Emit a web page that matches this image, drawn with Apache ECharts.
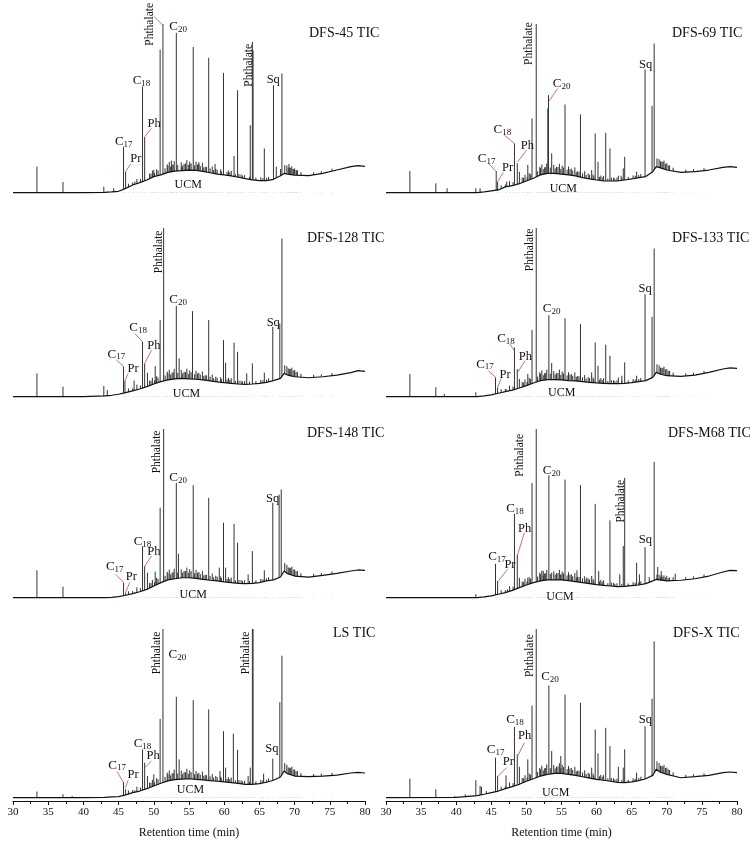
<!DOCTYPE html>
<html>
<head>
<meta charset="utf-8">
<title>TIC chromatograms</title>
<script src="https://cdn.jsdelivr.net/npm/echarts@6/dist/echarts.min.js"></script>
<style>
  html, body { margin: 0; padding: 0; background: #fff; }
  #chart { width: 750px; height: 844px; }
</style>
</head>
<body>
<div id="chart"></div>
<script>
// ===== data (retention time in min, signal in % of panel height) =====
const panelNames = ["DFS-45 TIC", "DFS-69 TIC", "DFS-128 TIC", "DFS-133 TIC", "DFS-148 TIC", "DFS-M68 TIC", "LS TIC", "DFS-X TIC"];
const xTickMin = 30, xTickMax = 80, xTickStep = 5;

// UCM hump (unresolved baseline), sampled at humpTimes
const humpTimes = [30, 40, 43, 44, 45, 46, 47, 48, 49, 50, 51, 52, 53, 54, 55, 56, 57, 58, 59, 60, 61, 62, 63, 64, 65, 66, 67, 68, 68.5, 69, 70, 72, 74, 76, 78, 79, 80];
const hump45  = [0, 0, 0.2, 0.4, 0.8, 2.5, 4.5, 5.9, 7.5, 9.5, 10.5, 12, 12.8, 13, 13.4, 13.2, 12.6, 11.8, 11, 10.5, 9.9, 9.1, 8.3, 7.6, 7.1, 7.1, 7.9, 10, 11.4, 11, 10.4, 10.1, 11.4, 13.4, 15.4, 16, 15.6];
const hump69  = [0, 0, 0, 0.4, 1, 1.6, 3.4, 4.1, 5.3, 6.9, 8.5, 10.5, 11.4, 11.4, 11, 10.5, 9.9, 8.9, 8.1, 7.5, 6.9, 6.9, 6.9, 7.5, 8.1, 8.9, 9.5, 12.4, 15.4, 14.8, 13.4, 12, 12.4, 13.4, 15, 15.4, 15];
const hump128 = [0, 0, 0.4, 0.8, 1.4, 2.4, 3.4, 4.5, 5.9, 7.5, 8.9, 9.9, 10.5, 10.8, 10.5, 10.3, 9.9, 9.3, 8.7, 8.3, 7.9, 7.5, 7.3, 7.5, 7.9, 8.5, 9.5, 10.8, 13.8, 12.8, 11.8, 11.2, 11.8, 12.8, 14.2, 15.4, 15];
const hump133 = [0, 0, 0, 0.4, 1, 2, 3, 3.9, 5.1, 6.5, 8.1, 9.5, 10.1, 10.1, 9.9, 9.5, 9.3, 8.9, 8.5, 8.1, 7.9, 7.7, 7.7, 7.9, 8.3, 8.9, 9.5, 11.4, 14.4, 13.4, 12.4, 12, 12.8, 14.4, 16.4, 17, 16.8];
const hump148 = [0, 0, 0, 0.2, 0.6, 1.4, 2.4, 3.5, 4.9, 6.9, 8.9, 10.5, 11.2, 11.8, 11.8, 11.4, 10.8, 10.3, 9.9, 9.3, 8.9, 8.5, 8.3, 8.5, 8.9, 9.9, 10.5, 12.2, 15.8, 14.2, 12.8, 12.2, 13.2, 14.4, 15.8, 16.4, 16.2];
const humpM68 = [0, 0, 0, 0.4, 1, 2, 3, 4.3, 5.9, 7.5, 8.9, 9.9, 10.5, 10.6, 10.5, 10.1, 9.5, 8.9, 8.3, 7.7, 7.3, 6.9, 6.5, 6.7, 7.1, 7.5, 8.3, 9.9, 10.8, 10.5, 9.9, 10.3, 11.2, 12.8, 15.2, 16.2, 16];
const humpLS  = [0, 0, 0.2, 0.4, 0.6, 1.6, 3, 3.9, 5.3, 6.9, 8.5, 9.9, 10.7, 11, 11.2, 10.8, 10.5, 10.1, 9.7, 9.3, 8.9, 8.5, 7.9, 7.9, 8.3, 9.1, 10.3, 12.2, 15.8, 14.2, 12.8, 12.4, 12.8, 13.4, 14.6, 15, 14.6];
const humpX   = [0, 0.2, 1.2, 2, 3, 3.9, 5.3, 6.5, 7.9, 9.7, 11.2, 12.8, 13.8, 14.4, 14.4, 13.8, 13.2, 12.4, 11.6, 10.8, 10.3, 9.7, 9.1, 8.9, 9.3, 10.1, 11.2, 13.2, 16.8, 15.2, 13.8, 11.8, 12.4, 13.2, 14.8, 15.2, 14.8];

// resolved peaks: [time, apex]
const peaks45  = [[33.4, 15.4], [37.1, 6.3], [42.9, 3.5], [44.3, 2.6], [45.7, 27.2], [46.0, 12.4], [47.3, 6.5], [48.4, 63], [48.7, 33], [50.0, 13.4], [50.9, 84.8], [51.3, 100], [52.5, 19], [53.2, 94.7], [53.9, 15], [55.1, 17], [55.6, 86.4], [56.4, 18], [57.8, 80], [58.7, 17], [59.9, 71], [61.4, 21.7], [61.9, 60.7], [63.7, 40], [64.0, 89.3], [64.1, 84.4], [65.7, 26.2], [67.0, 63.7], [67.4, 15.4], [68.0, 14], [68.2, 70.6], [69.2, 17], [69.8, 14], [70.3, 13]];
const peaks69  = [[33.4, 12.8], [37.1, 5.5], [38.7, 2.6], [42.8, 2.6], [43.4, 2.6], [45.7, 12.8], [45.9, 6.5], [47.2, 6.5], [48.3, 29.2], [48.7, 17.4], [49.0, 12.4], [50.2, 16.4], [50.8, 44], [51.4, 100], [53.05, 50], [53.15, 57.8], [53.6, 23.3], [55.5, 52.3], [57.7, 46.4], [59.3, 13.4], [59.8, 35.1], [60.2, 18.3], [61.3, 35.5], [61.9, 26.2], [63.1, 10], [63.5, 10], [63.8, 14.4], [64.0, 21.3], [65.7, 12.4], [66.9, 73], [67.9, 51.5], [68.2, 88.4]];
const peaks128 = [[33.4, 13.8], [37.1, 5.9], [42.9, 6.3], [43.4, 3.9], [45.7, 17.8], [45.9, 9.5], [47.2, 9.5], [48.4, 32.5], [48.7, 19.7], [49.1, 14.2], [50.2, 18.1], [50.9, 45.4], [51.4, 100], [53.2, 53.8], [53.6, 22.7], [55.5, 50.7], [57.8, 45.4], [59.9, 33.5], [60.2, 20.1], [61.4, 32], [61.9, 26.6], [63.2, 13.8], [64.0, 19.7], [65.7, 14.2], [66.9, 41.4], [67.9, 43.4], [68.2, 93.7]];
const peaks133 = [[33.4, 13.4], [37.1, 5.5], [38.3, 1.6], [42.8, 2.6], [45.6, 11.4], [45.9, 5.5], [47.1, 4.5], [48.3, 29.2], [48.7, 16.4], [49.0, 10.5], [50.2, 13.4], [50.8, 39.6], [51.4, 100], [53.2, 48.3], [53.6, 19.9], [55.5, 46.5], [57.7, 43], [59.3, 14.4], [59.8, 32.1], [60.2, 18.3], [61.3, 30.8], [61.9, 24.3], [63.1, 11.4], [63.6, 12.4], [64.0, 20.3], [65.7, 12.4], [66.9, 60.7], [67.9, 47.3], [68.2, 87.8]];
const peaks148 = [[33.4, 16.2], [37.1, 6.5], [45.7, 8.9], [46.0, 3], [47.3, 3], [48.4, 30.6], [48.7, 18.7], [49.1, 14.8], [50.2, 15.4], [50.9, 53.3], [51.4, 100], [53.2, 68], [53.5, 26], [55.6, 66.7], [57.8, 59.2], [59.3, 17.8], [59.9, 44.4], [60.2, 17.8], [61.4, 43.8], [61.9, 32.5], [63.4, 13.8], [64.0, 27.6], [65.7, 16.2], [66.9, 56.2], [67.8, 61.1], [68.1, 64.1]];
const peaksM68 = [[42.8, 2], [44.2, 1], [45.6, 20.1], [45.9, 9.9], [47.3, 4.9], [48.3, 49.7], [48.7, 25.6], [49.0, 11.8], [50.2, 11.8], [50.8, 68], [51.4, 100], [52.4, 15.8], [53.2, 72.6], [53.6, 14.8], [54.9, 13.8], [55.5, 70], [56.4, 11.8], [57.2, 16.2], [57.7, 66.7], [58.6, 11.8], [59.3, 12.8], [59.8, 55.6], [60.3, 15.8], [61.9, 45.8], [63.3, 13.8], [63.8, 30.6], [64.0, 71], [65.7, 20.7], [66.1, 13.8], [66.9, 30], [67.5, 12.2], [68.2, 80.5], [68.7, 18.1], [69.2, 15.8], [71.2, 14.2]];
const peaksLS  = [[33.4, 3.6], [37.1, 2], [38.4, 1], [45.7, 9.3], [46.0, 5], [47.3, 4.3], [48.4, 28.6], [48.7, 20.7], [49.1, 12.8], [50.0, 13.8], [50.9, 46.7], [51.3, 100], [53.2, 59.8], [53.6, 22.7], [55.6, 57.8], [57.8, 52.3], [59.4, 15.8], [59.9, 39.4], [60.2, 17.8], [61.3, 37.9], [61.9, 28.4], [63.4, 12.8], [63.7, 17.8], [64.0, 100], [64.1, 100], [65.6, 14.2], [66.9, 23.1], [67.9, 56.6], [68.2, 84.2]];
const peaksX   = [[33.4, 11.2], [37.1, 4.9], [39.8, 1], [41.3, 2], [42.8, 10.3], [43.4, 6.9], [43.6, 6.5], [44.3, 3.9], [45.6, 23.7], [45.9, 12.8], [47.1, 13.2], [48.3, 42], [48.7, 25.6], [49.0, 18.3], [50.2, 22.7], [50.8, 54.6], [51.4, 100], [53.2, 66.5], [53.6, 27.6], [54.9, 24.7], [55.5, 61.1], [57.7, 56.2], [59.3, 17.8], [59.8, 40.4], [60.2, 26.2], [61.3, 41.4], [61.9, 30.6], [63.1, 18.3], [63.8, 17.8], [64.0, 28.6], [65.7, 14.8], [66.9, 42.4], [67.9, 58.6], [68.2, 92.7]];

// small noise peaks riding on the hump (two interleaved sets of apexes)
const minorTimes = [46.4, 47.6, 49.4, 49.8, 50.4, 51.9, 52.2, 52.6, 52.9, 53.9, 54.3, 54.7, 55.1, 56.0, 56.4, 56.9, 57.3, 58.3, 58.8, 59.5, 60.6, 61.0, 62.4, 62.9, 65.2, 66.3, 68.6, 68.9, 69.3, 69.6, 70.0, 70.4, 70.9, 72.7, 73.8, 75.3];
const minor45  = [5.3, 8.1, 11.3, 13.1, 13.9, 16.8, 18.2, 16.5, 18.7, 18, 17.1, 19.3, 18.4, 18.2, 17, 17.7, 15.4, 15.6, 14.2, 13.8, 13.1, 12.9, 10.8, 10.4, 9.1, 9.3, 16.3, 16.1, 14.8, 15.6, 14.4, 13.3, 12.2, 12.1, 12.8, 14.2];
const minor69  = [4.3, 6.8, 8.9, 10.6, 11.5, 15.3, 16.7, 15, 17.3, 16.4, 15.3, 17.1, 16, 15.5, 14.3, 15, 12.6, 12.7, 11.3, 10.8, 10.1, 9.9, 8.9, 8.9, 10.2, 11.1, 20.3, 19.9, 18.4, 19, 17.4, 16.1, 14.8, 13.6, 13.9, 14.6];
const minor128 = [4.8, 7.1, 9.5, 11.2, 12.1, 14.8, 16, 14.3, 16.4, 15.8, 14.7, 16.6, 15.5, 15.3, 14.1, 14.9, 12.7, 13.1, 11.8, 11.5, 11.1, 10.9, 9.4, 9.3, 10, 10.8, 18.6, 18, 16.5, 17.2, 15.8, 14.7, 13.5, 12.9, 13.2, 14];
const minor133 = [4.4, 6.5, 8.7, 10.2, 11.1, 14.4, 15.6, 13.9, 16, 15.1, 14, 16, 14.9, 14.5, 13.4, 14.3, 12.2, 12.8, 11.6, 11.3, 11, 10.9, 9.7, 9.7, 10.4, 11.1, 19.2, 18.6, 17.1, 17.8, 16.4, 15.3, 14.2, 13.8, 14.2, 15.3];
const minor148 = [3.8, 6.1, 8.7, 10.5, 11.7, 15.3, 16.6, 14.9, 17.1, 16.7, 15.8, 17.8, 16.8, 16.4, 15.2, 15.9, 13.6, 14.2, 13, 12.6, 12.1, 11.9, 10.4, 10.3, 11.1, 12.1, 20.5, 19.5, 17.8, 18.4, 16.8, 15.7, 14.5, 14.1, 14.6, 15.5];
const minorM68 = [4.4, 6.8, 9.5, 11.2, 12.1, 14.8, 16, 14.3, 16.4, 15.6, 14.6, 16.5, 15.5, 15.1, 13.9, 14.6, 12.3, 12.7, 11.4, 11, 10.5, 10.3, 8.7, 8.5, 9.2, 9.7, 13.7, 13.6, 13.3, 13.2, 12.9, 12, 12.1, 12.1, 12.6, 13.7];
const minorLS  = [4.2, 6.5, 8.9, 10.6, 11.5, 14.8, 16.1, 14.4, 16.6, 16, 15.1, 17.1, 16.2, 15.8, 14.7, 15.5, 13.4, 14, 12.8, 12.5, 12.1, 11.9, 10.3, 10, 10.5, 11.5, 20.5, 19.5, 17.8, 18.4, 16.8, 15.7, 14.6, 14, 14.3, 14.7];
const minorX   = [6.5, 9, 11.6, 13.3, 14.3, 17.6, 19, 17.4, 19.7, 19.3, 18.4, 20.4, 19.4, 18.8, 17.6, 18.3, 16, 16.2, 14.8, 14.2, 13.5, 13.3, 11.5, 11.2, 11.5, 12.4, 21.5, 20.5, 18.8, 19.4, 17.8, 16.4, 15, 13.5, 13.8, 14.4];

const minorTimes2 = [47.0, 48.1, 49.6, 50.1, 50.6, 51.6, 52.0, 52.4, 52.75, 53.4, 54.1, 54.5, 54.9, 55.3, 55.8, 56.2, 56.6, 57.1, 57.5, 58.0, 58.5, 59.0, 59.6, 60.4, 60.8, 61.6, 62.1, 62.6, 63.6, 64.5, 65.5, 66.0, 69.1, 69.45, 69.8, 70.2];
const minor2_45  = [6, 8.1, 11.2, 11.6, 13.1, 14.4, 16, 15.3, 16.6, 16.4, 16, 17.2, 16.4, 17.3, 16.2, 16.6, 15.8, 15, 15.2, 14.3, 13.4, 13.5, 12.7, 12.3, 12, 10.9, 11, 10.1, 9.4, 8.9, 8.6, 8.6, 14.9, 14.7, 14, 13.4];
const minor2_69  = [4.9, 6.2, 8.8, 9.1, 10.9, 12.7, 14.5, 13.9, 15.2, 14.9, 14.4, 15.2, 14, 14.9, 13.6, 13.9, 13.1, 12.3, 12.4, 11.4, 10.5, 10.6, 9.7, 9.3, 9, 8.4, 8.9, 8.4, 8.8, 9.3, 10, 10.4, 18.7, 18.2, 17.2, 16.3];
const minor2_128 = [4.9, 6.6, 9.4, 9.6, 11.3, 12.5, 13.9, 13.1, 14.4, 14.1, 13.8, 14.6, 13.5, 14.4, 13.3, 13.7, 13.1, 12.3, 12.6, 11.8, 11, 11.2, 10.5, 10.1, 10, 9.2, 9.5, 8.9, 8.9, 9.2, 9.7, 10, 16.7, 16.3, 15.5, 14.7];
const minor2_133 = [4.5, 6, 8.4, 8.7, 10.5, 11.9, 13.5, 12.7, 14, 13.6, 13.1, 14, 12.9, 13.8, 12.6, 13, 12.4, 11.8, 12.1, 11.4, 10.7, 11, 10.3, 10, 9.9, 9.3, 9.7, 9.2, 9.3, 9.6, 10.1, 10.4, 17.2, 16.9, 16.1, 15.3];
const minor2_148 = [3.9, 5.6, 8.6, 9.1, 11.1, 12.9, 14.5, 13.8, 15, 14.9, 14.8, 15.8, 14.8, 15.7, 14.5, 14.8, 14, 13.2, 13.5, 12.8, 12.1, 12.4, 11.5, 11.1, 11, 10.2, 10.5, 9.9, 9.9, 10.2, 10.9, 11.4, 17.9, 17.5, 16.6, 15.7];
const minor2_M68 = [4.5, 6.5, 9.4, 9.6, 11.3, 12.5, 13.9, 13.1, 14.4, 14, 13.6, 14.5, 13.5, 14.4, 13.2, 13.5, 12.7, 11.9, 12.2, 11.4, 10.6, 10.8, 9.9, 9.5, 9.4, 8.6, 8.9, 8.2, 8.1, 8.4, 8.8, 9, 12.4, 12.2, 12, 11.5];
const minor2_LS  = [4.5, 6, 8.8, 9.1, 10.9, 12.3, 13.9, 13.2, 14.5, 14.3, 14, 15.1, 14.2, 15.1, 13.9, 14.2, 13.6, 13, 13.3, 12.6, 11.9, 12.2, 11.5, 11.1, 11, 10.2, 10.4, 9.6, 9.4, 9.6, 10.2, 10.6, 17.9, 17.5, 16.6, 15.7];
const minor2_X   = [6.8, 8.6, 11.5, 11.9, 13.6, 15.2, 16.8, 16.2, 17.6, 17.5, 17.4, 18.4, 17.4, 18.2, 16.9, 17.2, 16.4, 15.6, 15.8, 14.9, 14, 14.1, 13.1, 12.6, 12.4, 11.5, 11.6, 10.8, 10.5, 10.6, 11.2, 11.6, 18.9, 18.4, 17.6, 16.8];

// peak labels: [text, time, value] (label centre), leaders: [t1, v1, t2, v2]
const labels45  = [["Phthalate", 49.43, 99.8], ["C20", 53.46, 98.6], ["C18", 48.25, 66.3], ["Ph", 50.05, 40.6], ["C17", 45.73, 30.2], ["Pr", 47.44, 20.3], ["Phthalate", 63.55, 75.5], ["Sq", 66.97, 67], ["UCM", 54.88, 4.9]];
const labels69  = [["Phthalate", 50.37, 88.4], ["C20", 55.02, 64.7], ["C18", 46.57, 37.1], ["Ph", 50.13, 27.8], ["C17", 44.34, 20.3], ["Pr", 47.33, 15], ["Sq", 66.99, 76.1], ["UCM", 55.26, 2.2]];
const labels128 = [["Phthalate", 50.71, 85.8], ["C20", 53.46, 57.6], ["C18", 47.77, 41], ["Ph", 50, 30.2], ["C17", 44.69, 25.2], ["Pr", 47.06, 16.4], ["Sq", 66.97, 43.8], ["UCM", 54.64, 1.4]];
const labels133 = [["Phthalate", 50.47, 87], ["C20", 53.6, 52.3], ["C18", 47.09, 34.5], ["Ph", 49.85, 23.9], ["C17", 44.1, 19.3], ["Pr", 46.95, 13], ["Sq", 66.9, 63.7], ["UCM", 55.02, 2]];
const labels148 = [["Phthalate", 50.47, 86.4], ["C20", 53.46, 71.4], ["C18", 48.39, 33.1], ["Ph", 50, 27.2], ["C17", 44.45, 18.3], ["Pr", 46.82, 12.4], ["Sq", 66.87, 58.8], ["UCM", 55.6, 1.6]];
const labelsM68 = [["Phthalate", 49.04, 84.4], ["C20", 53.6, 75.3], ["C18", 48.38, 52.9], ["Ph", 49.75, 41], ["C17", 45.81, 24.1], ["Pr", 47.66, 19.3], ["Phthalate", 63.48, 57.2], ["Sq", 66.94, 34.1], ["UCM", 54.79, 0.6]];
const labelsLS  = [["Phthalate", 50.47, 85.8], ["C20", 53.36, 84.8], ["C18", 48.39, 32.1], ["Ph", 49.9, 24.7], ["C17", 44.79, 19.3], ["Pr", 47.06, 13.8], ["Phthalate", 63.08, 85.8], ["Sq", 66.78, 29.2], ["UCM", 55.21, 4.9]];
const labelsX   = [["Phthalate", 50.47, 84.2], ["C20", 53.36, 71.6], ["C18", 48.38, 46], ["Ph", 49.75, 36.5], ["C17", 45.62, 28.6], ["Pr", 47.43, 21.1], ["Sq", 66.94, 46], ["UCM", 54.17, 2.6]];

const leaders45  = [[50.05, 104.5, 51.28, 99.2], [49.67, 38.1, 48.72, 33.1], [46.73, 17.0, 45.97, 12.4]];
const leaders69  = [[54.45, 61.7, 53.22, 54.2], [46.86, 34.1, 48.28, 29.2], [50.04, 25.2, 48.76, 18.3], [44.58, 17.4, 45.62, 12.8], [46.71, 12, 45.91, 6.5]];
const leaders128 = [[47.3, 37.5, 48.39, 32.5], [49.67, 27.6, 48.72, 19.7], [44.69, 21.7, 45.73, 17.8], [46.35, 13.8, 45.92, 9.5]];
const leaders133 = [[47.66, 31.2, 48.28, 27.2], [49.8, 21.3, 48.76, 14.4], [44.58, 15.4, 45.62, 11.4], [46.38, 10.5, 45.9, 5.5]];
const leaders148 = [[49.67, 24.7, 48.72, 18.7], [44.6, 13.8, 45.73, 8.9], [46.59, 8.9, 45.97, 3]];
const leadersM68 = [[49.71, 38.5, 48.76, 25.6], [47.33, 16.8, 46, 9.9]];
const leadersLS  = [[49.67, 21.7, 48.72, 17.8], [44.79, 15.4, 45.64, 9.3], [46.35, 10.3, 45.97, 5.9]];
const leadersX   = [[49.71, 32.5, 48.76, 24.7], [47.19, 17.8, 45.9, 12.4]];

const humpList = [hump45, hump69, hump128, hump133, hump148, humpM68, humpLS, humpX];
const peakList = [peaks45, peaks69, peaks128, peaks133, peaks148, peaksM68, peaksLS, peaksX];
const minorList = [minor45, minor69, minor128, minor133, minor148, minorM68, minorLS, minorX];
const minor2List = [minor2_45, minor2_69, minor2_128, minor2_133, minor2_148, minor2_M68, minor2_LS, minor2_X];
const labelList = [labels45, labels69, labels128, labels133, labels148, labelsM68, labelsLS, labelsX];
const leaderList = [leaders45, leaders69, leaders128, leaders133, leaders148, leadersM68, leadersLS, leadersX];

// ===== layout =====
const FONT = "'Liberation Serif', 'Times New Roman', serif";
const colLeft = [13, 386];
const colWidth = [352, 351];
const rowTop = [24, 228, 429, 629];
const gridHeight = 172;
const titleX = [309, 672, 307, 672, 307, 668, 333, 673];
const titleY = [33, 238, 433, 633];
const INK = "#111";
const LEADER = "#e06a6a";

const chart = echarts.init(document.getElementById("chart"));

const grids = [], xAxes = [], yAxes = [], series = [];
for (let i = 0; i < 8; i++) {
  const col = i % 2, row = Math.floor(i / 2);
  const bottomRow = row === 3;
  grids.push({ left: colLeft[col], top: rowTop[row], width: colWidth[col], height: gridHeight });
  xAxes.push({
    gridIndex: i, type: "value", min: xTickMin, max: xTickMax, interval: xTickStep,
    show: bottomRow,
    axisLine: { onZero: false, lineStyle: { color: INK, width: 1 } },
    axisTick: { length: 4, lineStyle: { color: INK } },
    minorTick: { show: true, splitNumber: 2, length: 3, lineStyle: { color: INK } },
    splitLine: { show: false },
    axisLabel: { fontSize: 11, color: INK, fontFamily: FONT, margin: 6 },
    name: "Retention time (min)", nameLocation: "middle", nameGap: 26,
    nameTextStyle: { fontSize: 12, color: INK, fontFamily: FONT }
  });
  yAxes.push({ gridIndex: i, type: "value", min: -2, max: 100, show: false, splitLine: { show: false } });

  const pts = peakList[i]
    .concat(minorTimes.map((t, k) => [t, minorList[i][k]]))
    .concat(minorTimes2.map((t, k) => [t, minor2List[i][k]]));
  series.push({
    type: "custom", xAxisIndex: i, yAxisIndex: i, data: pts, silent: true, z: 2,
    encode: { x: 0, y: 1 },
    renderItem: (params, api) => {
      const p0 = api.coord([api.value(0), 0]);
      const p1 = api.coord([api.value(0), api.value(1)]);
      return {
        type: "line",
        shape: { x1: p0[0], y1: p0[1], x2: p1[0], y2: p1[1] },
        style: { stroke: "#333", lineWidth: 1 }
      };
    }
  });
  series.push({
    type: "line", xAxisIndex: i, yAxisIndex: i, silent: true, z: 3,
    data: humpTimes.map((t, k) => [t, humpList[i][k]]),
    symbol: "none", smooth: false,
    lineStyle: { color: INK, width: 1.2 },
    areaStyle: { color: "#fff", opacity: 1 }
  });
}

chart.setOption({
  animation: false,
  backgroundColor: "#fff",
  grid: grids, xAxis: xAxes, yAxis: yAxes, series: series
});

// ===== annotations placed through each panel's scales =====
const richLabel = {
  c: { fontSize: 13, lineHeight: 13, fontFamily: FONT, fill: INK, verticalAlign: "top" },
  s: { fontSize: 9, lineHeight: 9, fontFamily: FONT, fill: INK, padding: [6, 0, 0, 0] }
};
const elements = [];
for (let i = 0; i < 8; i++) {
  const toPx = (t, v) => chart.convertToPixel({ xAxisIndex: i, yAxisIndex: i }, [t, v]);
  elements.push({
    type: "text", x: titleX[i], y: titleY[Math.floor(i / 2)], z: 100,
    style: { text: panelNames[i], fontSize: 14, fontFamily: FONT, fill: INK, align: "left", verticalAlign: "middle" }
  });
  leaderList[i].forEach(([t1, v1, t2, v2]) => {
    const a = toPx(t1, v1), b = toPx(t2, v2);
    elements.push({
      type: "line", z: 99, silent: true,
      shape: { x1: a[0], y1: a[1], x2: b[0], y2: b[1] },
      style: { stroke: LEADER, lineWidth: 1 }
    });
  });
  labelList[i].forEach(([txt, t, v]) => {
    const p = toPx(t, v);
    const sub = /^C(\d+)$/.exec(txt);
    const el = { type: "text", x: p[0], y: p[1], z: 100, silent: true, style: { fill: INK, align: "center", verticalAlign: "middle", fontFamily: FONT } };
    if (sub) {
      el.style.text = "{c|C}{s|" + sub[1] + "}";
      el.style.rich = richLabel;
    } else if (txt === "Phthalate") {
      el.style.text = txt;
      el.style.fontSize = 11.5;
      el.rotation = Math.PI / 2;
    } else {
      el.style.text = txt;
      el.style.fontSize = txt === "UCM" ? 12 : 12.5;
    }
    elements.push(el);
  });
}
chart.setOption({ graphic: { elements: elements } });
</script>
</body>
</html>
